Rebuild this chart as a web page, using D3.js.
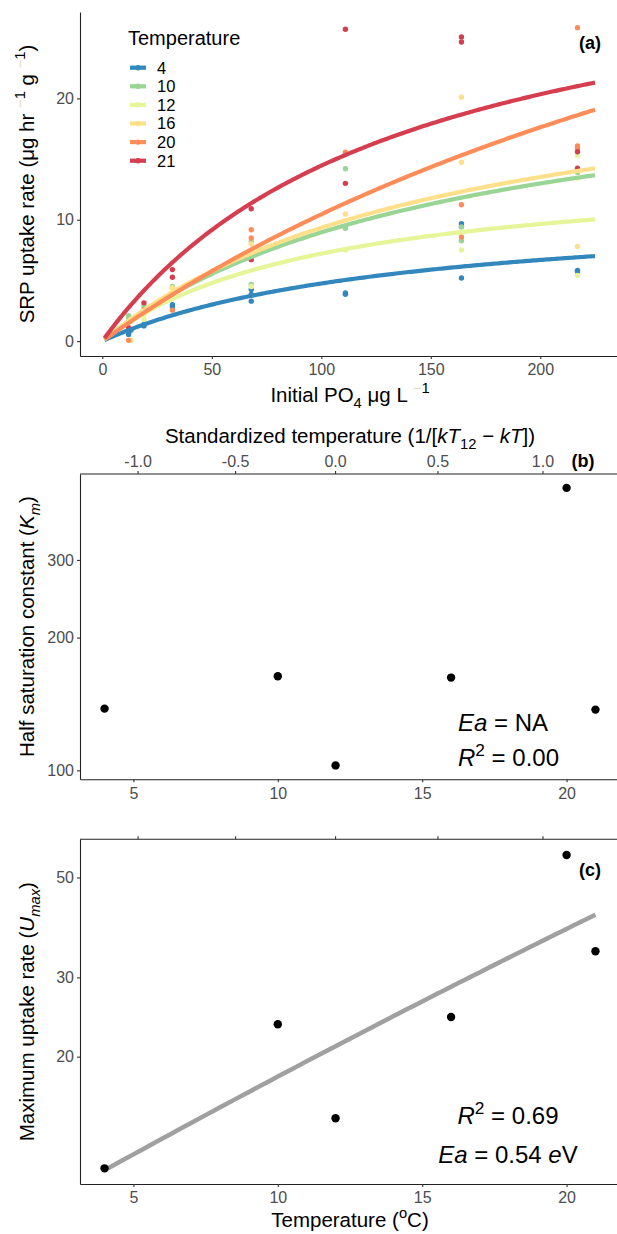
<!DOCTYPE html>
<html><head><meta charset="utf-8">
<script src="https://cdn.jsdelivr.net/npm/d3@7"></script>
<style>
body{margin:0;background:#fff;}
text{font-family:"Liberation Sans", Arial, sans-serif;}
</style></head><body>
<svg id="chart" width="617" height="1234"></svg>
<script>
// ---------------- DATA ----------------
const temps = [4, 10, 12, 16, 20, 21];
const tempColors = ["#3288bd", "#99d594", "#e6f598", "#fee08b", "#fc8d59", "#d53e4f"];

// panel (a) observations: initial PO4 (ug/L) and SRP uptake rate per temperature
const concT4  = [12, 12, 13, 19, 19, 32, 32, 68, 68, 68, 111, 111, 164, 164, 164, 217, 217];
const rateT4  = [0.70, 0.55, 0.90, 1.25, 1.40, 3.00, 2.80, 4.25, 3.84, 3.29, 3.97, 3.85, 9.67, 9.45, 5.20, 5.83, 5.73];
const concT10 = [12, 12, 19, 19, 32, 32, 68, 68, 111, 111, 164, 164, 217];
const rateT10 = [2.10, 1.90, 2.90, 2.30, 4.50, 4.35, 4.66, 8.20, 14.20, 9.30, 9.40, 8.27, 13.90];
const concT12 = [13, 19, 19, 32, 68, 68, 111, 164, 217, 217];
const rateT12 = [1.60, 2.20, 1.78, 4.30, 7.00, 4.50, 7.50, 7.51, 15.28, 5.40];
const concT16 = [13, 19, 32, 68, 111, 164, 164, 217, 217];
const rateT16 = [0.06, 2.50, 4.40, 8.00, 10.47, 20.10, 14.74, 13.43, 7.80];
const concT20 = [12, 19, 32, 68, 68, 111, 164, 164, 217, 217, 217];
const rateT20 = [0.06, 2.60, 2.55, 9.18, 8.50, 15.56, 11.23, 8.58, 25.83, 16.08, 15.90];
const concT21 = [12, 19, 32, 32, 68, 68, 111, 111, 164, 164, 217, 217];
const rateT21 = [1.10, 3.15, 5.89, 5.26, 10.90, 6.71, 25.70, 13.00, 25.06, 24.65, 15.60, 14.25];
const concByTemp = [concT4, concT10, concT12, concT16, concT20, concT21];
const rateByTemp = [rateT4, rateT10, rateT12, rateT16, rateT20, rateT21];

// fitted Michaelis-Menten parameters (panels b and c)
const kmValues   = [138, 163.4, 102.6, 162.3, 437, 137.3];
const umaxValues = [11.3, 23.6, 14.6, 24.5, 56.1, 34.3];
const fitRange = [1, 225];

// Arrhenius fit for Umax (panel c)
const umaxAtT12 = 21.1;
const eaUmax = 0.54;

// tick labels
const ticksA_x = [0, 50, 100, 150, 200];
const ticksA_y = [0, 10, 20];
const ticksT = [5, 10, 15, 20];
const ticksStd = [-1.0, -0.5, 0.0, 0.5, 1.0];
const ticksKm = [100, 200, 300];
const ticksUmax = [20, 30, 50];

// ---------------- HELPERS ----------------
const boltz = 8.617e-5, T12 = 12;
const stdToT = s => 1 / (1 / (T12 + 273.15) - s * boltz) - 273.15;
const tToStd = t => 1 / (boltz * (T12 + 273.15)) - 1 / (boltz * (t + 273.15));

const svg = d3.select("#chart");
const L = 80, R = 620;
const axisCol = "#222", tickTextCol = "#4d4d4d";
const titleSize = 20.5;

function rich(parent, segs, attrs) {
  const t = parent.append("text");
  for (const k in attrs) t.attr(k, attrs[k]);
  const fs = attrs["font-size"];
  let shift = 0;
  segs.forEach(s => {
    const ts = t.append("tspan").text(s.t);
    let target = 0;
    if (s.sup) target = -0.42 * fs; else if (s.sub) target = 0.28 * fs;
    const dy = target - shift;
    if (dy !== 0) ts.attr("dy", dy);
    shift = target;
    if (s.sup || s.sub) ts.attr("font-size", fs * 0.72);
    if (s.i) ts.attr("font-style", "italic");
    if (s.fill) ts.attr("fill", s.fill);
  });
  return t;
}
function styleAxis(g) {
  g.select(".domain").attr("stroke", axisCol).attr("stroke-width", 1.1);
  g.selectAll(".tick line").attr("stroke", "#333").attr("stroke-width", 1.1);
  g.selectAll(".tick text").attr("fill", tickTextCol).attr("font-size", 16)
    .attr("font-family", "Liberation Sans, Arial, sans-serif");
}
function logDomain(vals) {
  const lo = Math.log10(d3.min(vals)), hi = Math.log10(d3.max(vals));
  const e = (hi - lo) * 0.05;
  return [Math.pow(10, lo - e), Math.pow(10, hi + e)];
}
function linDomain(lo, hi) { const e = (hi - lo) * 0.05; return [lo - e, hi + e]; }

// ---------------- PANEL A ----------------
const allRates = rateByTemp.flat();
const xA = d3.scaleLinear().domain(linDomain(fitRange[0], fitRange[1] + 0.2)).range([L, R]);
const yA = d3.scaleLinear().domain(linDomain(d3.min(allRates), d3.max(allRates))).range([356, 12]);

const gA = svg.append("g");
const clipA = svg.append("clipPath").attr("id", "clipA");
clipA.append("rect").attr("x", L).attr("y", 12).attr("width", R - L).attr("height", 344);

const pts = gA.append("g").attr("clip-path", "url(#clipA)");
temps.forEach((t, i) => {
  const data = concByTemp[i].map((c, j) => [c, rateByTemp[i][j]]);
  pts.selectAll(null).data(data).enter().append("circle")
    .attr("cx", d => xA(d[0])).attr("cy", d => yA(d[1])).attr("r", 2.7)
    .attr("fill", tempColors[i]);
});
const lineA = d3.line().x(d => xA(d[0])).y(d => yA(d[1]));
const lines = gA.append("g").attr("clip-path", "url(#clipA)");
temps.forEach((t, i) => {
  const sVals = d3.range(fitRange[0], fitRange[1] + 0.5, 1);
  const curve = sVals.map(s => [s, umaxValues[i] * s / (kmValues[i] + s)]);
  lines.append("path").attr("d", lineA(curve)).attr("fill", "none")
    .attr("stroke", tempColors[i]).attr("stroke-width", 4.2).attr("stroke-linecap", "butt");
});

const axAx = gA.append("g").attr("transform", "translate(0,356)")
  .call(d3.axisBottom(xA).tickValues(ticksA_x).tickSize(3).tickSizeOuter(0).tickPadding(5));
styleAxis(axAx);
const axAy = gA.append("g").attr("transform", `translate(${L},0)`)
  .call(d3.axisLeft(yA).tickValues(ticksA_y).tickSize(3).tickSizeOuter(0).tickPadding(3));
styleAxis(axAy);

rich(gA, [{t: "Initial PO"}, {t: "4", sub: true}, {t: " \u03bcg L "}, {t: "\u2212", sup: true, fill: "#eadcb8"}, {t: "1", sup: true}],
  {x: 350, y: 402, "text-anchor": "middle", "font-size": titleSize, fill: "#000"});
rich(gA, [{t: "SRP uptake rate (\u03bcg hr "}, {t: "\u2212", sup: true, fill: "#eadcb8"}, {t: "1", sup: true}, {t: " g "}, {t: "\u2212", sup: true, fill: "#eadcb8"}, {t: "1", sup: true}, {t: ")"}],
  {transform: "translate(34,184) rotate(-90)", "text-anchor": "middle", "font-size": titleSize, fill: "#000"});

gA.append("text").attr("x", 590).attr("y", 49).attr("text-anchor", "middle")
  .attr("font-size", 18).attr("font-weight", "bold").text("(a)");

// legend
const leg = gA.append("g");
leg.append("text").attr("x", 128).attr("y", 45).attr("font-size", 20).attr("fill", "#000").text("Temperature");
temps.forEach((t, i) => {
  const cy = 67.7 + i * 18.6;
  leg.append("line").attr("x1", 130).attr("x2", 146).attr("y1", cy).attr("y2", cy)
    .attr("stroke", tempColors[i]).attr("stroke-width", 4.2);
  leg.append("circle").attr("cx", 138).attr("cy", cy).attr("r", 2.7).attr("fill", tempColors[i]);
  leg.append("text").attr("x", 157).attr("y", cy).attr("dy", "0.36em").attr("font-size", 16.5)
    .attr("fill", "#000").text(t);
});

// ---------------- PANEL B ----------------
const xT_b = d3.scaleLinear().domain(linDomain(d3.min(temps), d3.max(temps))).range([L, R]);
const yB = d3.scaleLog().domain(logDomain(kmValues)).range([779.3, 474]);
const gB = svg.append("g");
const axBx = gB.append("g").attr("transform", "translate(0,779.3)")
  .call(d3.axisBottom(xT_b).tickValues(ticksT).tickSize(3).tickSizeOuter(0).tickPadding(5));
styleAxis(axBx);
const axBy = gB.append("g").attr("transform", `translate(${L},0)`)
  .call(d3.axisLeft(yB).tickValues(ticksKm).tickFormat(d3.format("d")).tickSize(3).tickSizeOuter(0).tickPadding(3));
styleAxis(axBy);
// top secondary axis (standardized temperature)
const topB = gB.append("g");
topB.append("line").attr("x1", L).attr("x2", R).attr("y1", 474).attr("y2", 474).attr("stroke", axisCol).attr("stroke-width", 1.1);
ticksStd.forEach(s => {
  const px = xT_b(stdToT(s));
  topB.append("line").attr("x1", px).attr("x2", px).attr("y1", 474).attr("y2", 471).attr("stroke", "#333").attr("stroke-width", 1.1);
  topB.append("text").attr("x", px).attr("y", 467).attr("text-anchor", "middle").attr("font-size", 16)
    .attr("fill", tickTextCol).text(d3.format(".1f")(s).replace("\u2212", "-"));
});
rich(gB, [{t: "Standardized temperature (1/["}, {t: "kT", i: true}, {t: "12", sub: true}, {t: " \u2212 "}, {t: "kT", i: true}, {t: "])"}],
  {x: 350, y: 443, "text-anchor": "middle", "font-size": titleSize, fill: "#000"});
gB.append("text").attr("x", 583).attr("y", 467).attr("text-anchor", "middle")
  .attr("font-size", 18).attr("font-weight", "bold").text("(b)");
gB.selectAll(null).data(temps).enter().append("circle")
  .attr("cx", d => xT_b(d)).attr("cy", (d, i) => yB(kmValues[i])).attr("r", 4.2).attr("fill", "#000");
rich(gB, [{t: "Half saturation constant ("}, {t: "K", i: true}, {t: "m", sub: true, i: true}, {t: ")"}],
  {transform: "translate(34,626.6) rotate(-90)", "text-anchor": "middle", "font-size": titleSize, fill: "#000"});
rich(gB, [{t: "Ea", i: true}, {t: " = NA"}], {x: 458, y: 731, "font-size": 24, fill: "#000"});
rich(gB, [{t: "R", i: true}, {t: "2", sup: true}, {t: " = 0.00"}], {x: 458, y: 766, "font-size": 24, fill: "#000"});

// ---------------- PANEL C ----------------
const yC = d3.scaleLog().domain(logDomain(umaxValues)).range([1184, 839.3]);
const gC = svg.append("g");
const axCx = gC.append("g").attr("transform", "translate(0,1184)")
  .call(d3.axisBottom(xT_b).tickValues(ticksT).tickSize(3).tickSizeOuter(0).tickPadding(5));
styleAxis(axCx);
const axCy = gC.append("g").attr("transform", `translate(${L},0)`)
  .call(d3.axisLeft(yC).tickValues(ticksUmax).tickFormat(d3.format("d")).tickSize(3).tickSizeOuter(0).tickPadding(3));
styleAxis(axCy);
const topC = gC.append("g");
topC.append("line").attr("x1", L).attr("x2", R).attr("y1", 839.3).attr("y2", 839.3).attr("stroke", axisCol).attr("stroke-width", 1.1);
ticksStd.forEach(s => {
  const px = xT_b(stdToT(s));
  topC.append("line").attr("x1", px).attr("x2", px).attr("y1", 839.3).attr("y2", 836.3).attr("stroke", "#333").attr("stroke-width", 1.1);
});
const fitT = d3.range(d3.min(temps), d3.max(temps) + 0.01, 0.25);
const fitLine = d3.line().x(d => xT_b(d)).y(d => yC(umaxAtT12 * Math.exp(eaUmax * tToStd(d))));
gC.append("path").attr("d", fitLine(fitT)).attr("fill", "none").attr("stroke", "#a0a0a0").attr("stroke-width", 4.5);
gC.selectAll(null).data(temps).enter().append("circle")
  .attr("cx", d => xT_b(d)).attr("cy", (d, i) => yC(umaxValues[i])).attr("r", 4.2).attr("fill", "#000");
gC.append("text").attr("x", 590).attr("y", 876).attr("text-anchor", "middle")
  .attr("font-size", 18).attr("font-weight", "bold").text("(c)");
rich(gC, [{t: "Maximum uptake rate ("}, {t: "U", i: true}, {t: "max", sub: true, i: true}, {t: ")"}],
  {transform: "translate(34,1011.7) rotate(-90)", "text-anchor": "middle", "font-size": titleSize, fill: "#000"});
rich(gC, [{t: "R", i: true}, {t: "2", sup: true}, {t: " = 0.69"}], {x: 508, y: 1124, "text-anchor": "middle", "font-size": 24, fill: "#000"});
rich(gC, [{t: "Ea", i: true}, {t: " = 0.54 "}, {t: "e", i: true}, {t: "V"}], {x: 508, y: 1163, "text-anchor": "middle", "font-size": 24, fill: "#000"});
rich(gC, [{t: "Temperature ("}, {t: "o", sup: true}, {t: "C)"}],
  {x: 350, y: 1227, "text-anchor": "middle", "font-size": titleSize, fill: "#000"});
</script>
</body></html>
